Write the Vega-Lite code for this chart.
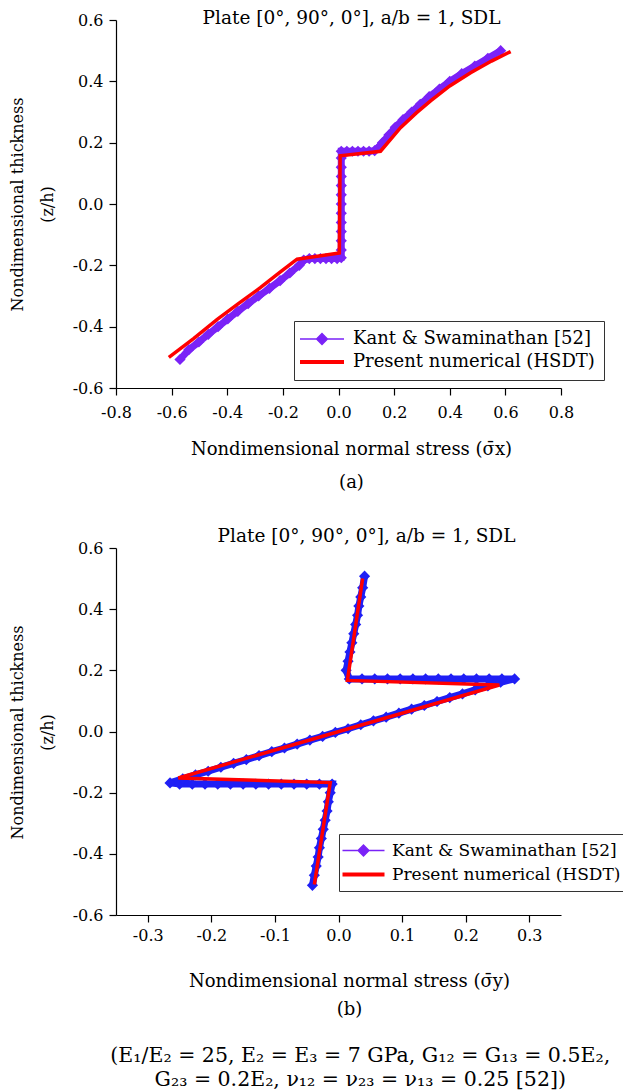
{
  "$schema": "https://vega.github.io/schema/vega-lite/v6.json",
  "padding": {"left": 9, "top": 8, "right": 0, "bottom": 0},
  "spacing": 35,
  "config": {
    "font": "DejaVu Serif",
    "view": {"stroke": null},
    "axis": {"domainColor": "#000", "tickColor": "#000", "labelColor": "#000", "titleColor": "#000", "labelFont": "DejaVu Serif", "titleFont": "DejaVu Serif", "labelFontSize": 16, "titleFontSize": 18, "titleFontWeight": "normal", "grid": false, "labelFlush": false, "labelOverlap": false, "domainWidth": 1.2, "tickWidth": 1.2},
    "title": {"font": "DejaVu Serif", "fontWeight": "normal", "color": "#000"}
  },
  "title": {"text": ["(E₁/E₂ = 25, E₂ = E₃ = 7 GPa, G₁₂ = G₁₃ = 0.5E₂,", "G₂₃ = 0.2E₂, ν₁₂ = ν₂₃ = ν₁₃ = 0.25 [52])"], "orient": "bottom", "anchor": "middle", "fontSize": 20.5, "lineHeight": 24, "dx": 41, "offset": 28},
  "datasets": {
    "presA": [
      {"i": 1, "x": -0.61, "z": -0.5}, {"i": 2, "x": -0.52, "z": -0.438}, {"i": 3, "x": -0.436, "z": -0.376}, {"i": 4, "x": -0.36, "z": -0.325}, {"i": 5, "x": -0.281, "z": -0.273}, {"i": 6, "x": -0.21, "z": -0.222}, {"i": 7, "x": -0.149, "z": -0.18}, {"i": 8, "x": 0.003, "z": -0.16}, {"i": 9, "x": 0.006, "z": 0.157}, {"i": 10, "x": 0.151, "z": 0.172}, {"i": 11, "x": 0.223, "z": 0.249}, {"i": 12, "x": 0.28, "z": 0.297}, {"i": 13, "x": 0.331, "z": 0.336}, {"i": 14, "x": 0.4, "z": 0.385}, {"i": 15, "x": 0.475, "z": 0.428}, {"i": 16, "x": 0.55, "z": 0.466}, {"i": 17, "x": 0.619, "z": 0.497}
    ],
    "kantA": [
      {"i": 1, "x": -0.57, "z": -0.507}, {"i": 2, "x": -0.538, "z": -0.475}, {"i": 3, "x": -0.502, "z": -0.45}, {"i": 4, "x": -0.468, "z": -0.425}, {"i": 5, "x": -0.433, "z": -0.4}, {"i": 6, "x": -0.398, "z": -0.375}, {"i": 7, "x": -0.362, "z": -0.35}, {"i": 8, "x": -0.325, "z": -0.325}, {"i": 9, "x": -0.287, "z": -0.3}, {"i": 10, "x": -0.248, "z": -0.275}, {"i": 11, "x": -0.21, "z": -0.25}, {"i": 12, "x": -0.175, "z": -0.225}, {"i": 13, "x": -0.141, "z": -0.2}, {"i": 14, "x": -0.125, "z": -0.183},
      {"i": 15, "x": -0.105, "z": -0.178}, {"i": 16, "x": -0.085, "z": -0.178}, {"i": 17, "x": -0.065, "z": -0.178}, {"i": 18, "x": -0.045, "z": -0.178}, {"i": 19, "x": -0.025, "z": -0.178}, {"i": 20, "x": -0.005, "z": -0.178}, {"i": 21, "x": 0.01, "z": -0.175},
      {"i": 22, "x": 0.01, "z": -0.15}, {"i": 23, "x": 0.01, "z": -0.12}, {"i": 24, "x": 0.01, "z": -0.09}, {"i": 25, "x": 0.01, "z": -0.06}, {"i": 26, "x": 0.01, "z": -0.03}, {"i": 27, "x": 0.01, "z": 0.0}, {"i": 28, "x": 0.01, "z": 0.03}, {"i": 29, "x": 0.01, "z": 0.06}, {"i": 30, "x": 0.01, "z": 0.09}, {"i": 31, "x": 0.01, "z": 0.12}, {"i": 32, "x": 0.01, "z": 0.15}, {"i": 33, "x": 0.01, "z": 0.172},
      {"i": 34, "x": 0.03, "z": 0.172}, {"i": 35, "x": 0.05, "z": 0.172}, {"i": 36, "x": 0.07, "z": 0.172}, {"i": 37, "x": 0.09, "z": 0.172}, {"i": 38, "x": 0.11, "z": 0.172}, {"i": 39, "x": 0.13, "z": 0.174},
      {"i": 40, "x": 0.145, "z": 0.185}, {"i": 41, "x": 0.158, "z": 0.2}, {"i": 42, "x": 0.181, "z": 0.225}, {"i": 43, "x": 0.204, "z": 0.25}, {"i": 44, "x": 0.232, "z": 0.275}, {"i": 45, "x": 0.263, "z": 0.3}, {"i": 46, "x": 0.294, "z": 0.325}, {"i": 47, "x": 0.326, "z": 0.35}, {"i": 48, "x": 0.363, "z": 0.375}, {"i": 49, "x": 0.4, "z": 0.4}, {"i": 50, "x": 0.443, "z": 0.425}, {"i": 51, "x": 0.49, "z": 0.45}, {"i": 52, "x": 0.537, "z": 0.475}, {"i": 53, "x": 0.583, "z": 0.5}
    ],
    "presB": [
      {"i": 1, "x": -0.038, "z": -0.5}, {"i": 2, "x": -0.013, "z": -0.167}, {"i": 3, "x": -0.252, "z": -0.152}, {"i": 4, "x": 0.253, "z": 0.152}, {"i": 5, "x": 0.014, "z": 0.167}, {"i": 6, "x": 0.038, "z": 0.5}
    ],
    "kantB": [
      {"i": 1, "x": -0.041, "z": -0.503}, {"i": 2, "x": -0.038, "z": -0.47}, {"i": 3, "x": -0.035, "z": -0.44}, {"i": 4, "x": -0.032, "z": -0.41}, {"i": 5, "x": -0.03, "z": -0.38}, {"i": 6, "x": -0.027, "z": -0.35}, {"i": 7, "x": -0.024, "z": -0.32}, {"i": 8, "x": -0.021, "z": -0.29}, {"i": 9, "x": -0.018, "z": -0.26}, {"i": 10, "x": -0.016, "z": -0.23}, {"i": 11, "x": -0.013, "z": -0.2}, {"i": 12, "x": -0.01, "z": -0.172},
      {"i": 13, "x": -0.03, "z": -0.172}, {"i": 14, "x": -0.05, "z": -0.172}, {"i": 15, "x": -0.07, "z": -0.172}, {"i": 16, "x": -0.09, "z": -0.172}, {"i": 17, "x": -0.11, "z": -0.172}, {"i": 18, "x": -0.13, "z": -0.172}, {"i": 19, "x": -0.15, "z": -0.172}, {"i": 20, "x": -0.17, "z": -0.172}, {"i": 21, "x": -0.19, "z": -0.172}, {"i": 22, "x": -0.21, "z": -0.172}, {"i": 23, "x": -0.23, "z": -0.172}, {"i": 24, "x": -0.25, "z": -0.172}, {"i": 25, "x": -0.265, "z": -0.168},
      {"i": 26, "x": -0.245, "z": -0.155}, {"i": 27, "x": -0.225, "z": -0.142}, {"i": 28, "x": -0.205, "z": -0.13}, {"i": 29, "x": -0.185, "z": -0.117}, {"i": 30, "x": -0.165, "z": -0.104}, {"i": 31, "x": -0.145, "z": -0.092}, {"i": 32, "x": -0.125, "z": -0.079}, {"i": 33, "x": -0.105, "z": -0.066}, {"i": 34, "x": -0.085, "z": -0.054}, {"i": 35, "x": -0.065, "z": -0.041}, {"i": 36, "x": -0.045, "z": -0.028}, {"i": 37, "x": -0.025, "z": -0.016}, {"i": 38, "x": -0.005, "z": -0.003}, {"i": 39, "x": 0.015, "z": 0.009}, {"i": 40, "x": 0.035, "z": 0.022}, {"i": 41, "x": 0.055, "z": 0.035}, {"i": 42, "x": 0.075, "z": 0.047}, {"i": 43, "x": 0.095, "z": 0.06}, {"i": 44, "x": 0.115, "z": 0.073}, {"i": 45, "x": 0.135, "z": 0.085}, {"i": 46, "x": 0.155, "z": 0.098}, {"i": 47, "x": 0.175, "z": 0.111}, {"i": 48, "x": 0.195, "z": 0.123}, {"i": 49, "x": 0.215, "z": 0.136}, {"i": 50, "x": 0.235, "z": 0.149}, {"i": 51, "x": 0.255, "z": 0.161}, {"i": 52, "x": 0.277, "z": 0.172},
      {"i": 53, "x": 0.257, "z": 0.172}, {"i": 54, "x": 0.237, "z": 0.172}, {"i": 55, "x": 0.217, "z": 0.172}, {"i": 56, "x": 0.197, "z": 0.172}, {"i": 57, "x": 0.177, "z": 0.172}, {"i": 58, "x": 0.157, "z": 0.172}, {"i": 59, "x": 0.137, "z": 0.172}, {"i": 60, "x": 0.117, "z": 0.172}, {"i": 61, "x": 0.097, "z": 0.172}, {"i": 62, "x": 0.077, "z": 0.172}, {"i": 63, "x": 0.057, "z": 0.172}, {"i": 64, "x": 0.037, "z": 0.172}, {"i": 65, "x": 0.017, "z": 0.172},
      {"i": 66, "x": 0.012, "z": 0.2}, {"i": 67, "x": 0.015, "z": 0.23}, {"i": 68, "x": 0.018, "z": 0.26}, {"i": 69, "x": 0.021, "z": 0.29}, {"i": 70, "x": 0.024, "z": 0.32}, {"i": 71, "x": 0.027, "z": 0.35}, {"i": 72, "x": 0.03, "z": 0.38}, {"i": 73, "x": 0.032, "z": 0.41}, {"i": 74, "x": 0.035, "z": 0.44}, {"i": 75, "x": 0.038, "z": 0.47}, {"i": 76, "x": 0.041, "z": 0.508}
    ]
  },
  "resolve": {"scale": {"color": "independent", "x": "independent", "y": "independent"}, "legend": {"color": "independent"}, "axis": {"x": "independent", "y": "independent"}},
  "vconcat": [
    {
      "width": 445,
      "height": 368,
      "title": {"text": "Plate [0°, 90°, 0°], a/b = 1, SDL", "fontSize": 18.5, "anchor": "middle", "offset": -15, "dx": 13},
      "layer": [
        {
          "data": {"name": "kantA"},
          "mark": {"type": "line", "color": "#7a22f7", "strokeWidth": 7},
          "encoding": {
            "x": {"field": "x", "type": "quantitative", "scale": {"domain": [-0.8, 0.8], "nice": false, "zero": false},
              "axis": {"values": [-0.8, -0.7, -0.6, -0.5, -0.4, -0.3, -0.2, -0.1, 0, 0.1, 0.2, 0.3, 0.4, 0.5, 0.6, 0.7, 0.8],
                "labelExpr": "abs(datum.value*5 - round(datum.value*5)) < 0.01 ? (datum.value < -0.001 ? '-' : '') + format(abs(datum.value), '.1f') : ''",
                "tickSize": {"condition": {"test": "abs(datum.value*5 - round(datum.value*5)) < 0.01", "value": 7}, "value": 4},
                "labelPadding": 9,
                "title": ["Nondimensional normal stress (σ̄x)", "(a)"], "titleX": 235, "titleY": 52, "titleAlign": "center", "titleBaseline": "top", "titleLineHeight": 33}},
            "y": {"field": "z", "type": "quantitative", "scale": {"domain": [-0.6, 0.6], "nice": false, "zero": false},
              "axis": {"values": [-0.6, -0.5, -0.4, -0.3, -0.2, -0.1, 0, 0.1, 0.2, 0.3, 0.4, 0.5, 0.6],
                "labelExpr": "abs(datum.value*5 - round(datum.value*5)) < 0.01 ? (datum.value < -0.001 ? '-' : '') + format(abs(datum.value), '.1f') : ''",
                "tickSize": {"condition": {"test": "abs(datum.value*5 - round(datum.value*5)) < 0.01", "value": 7}, "value": 4},
                "labelPadding": 6, "titleFontSize": 16,
                "title": ["Nondimensional thickness", "(z/h)"], "titleAngle": -90, "titleX": -99, "titleY": 184, "titleAlign": "center", "titleBaseline": "middle", "titleLineHeight": 30}},
            "order": {"field": "i", "type": "quantitative"}
          }
        },
        {
          "data": {"name": "kantA"},
          "mark": {"type": "point", "shape": "diamond", "filled": true, "color": "#7a22f7", "size": 125, "opacity": 1},
          "encoding": {
            "x": {"field": "x", "type": "quantitative"},
            "y": {"field": "z", "type": "quantitative"}
          }
        },
        {
          "data": {"name": "presA"},
          "mark": {"type": "line", "strokeWidth": 3.5},
          "encoding": {
            "x": {"field": "x", "type": "quantitative"},
            "y": {"field": "z", "type": "quantitative"},
            "order": {"field": "i", "type": "quantitative"},
            "color": {"datum": "Present numerical (HSDT)", "type": "nominal",
              "scale": {"domain": ["Kant & Swaminathan [52]", "Present numerical (HSDT)"], "range": ["#7a22f7", "#ff0000"]},
              "legend": {"title": null, "orient": "none", "legendX": 178, "legendY": 301, "direction": "vertical",
                "labelFont": "DejaVu Serif", "labelFontSize": 18, "labelColor": "#000", "labelLimit": 0,
                "strokeColor": "#333", "fillColor": "#fff", "padding": 9, "rowPadding": 5,
                "symbolSize": 400, "symbolOffset": 10, "labelOffset": 22,
                "encode": {"symbols": {"update": {
                  "shape": {"signal": "datum.value === 'Present numerical (HSDT)' ? 'M-2.2,0L2.2,0' : 'M-2.2,0L2.2,0M0,-0.55L0.55,0L0,0.55L-0.55,0Z'"},
                  "fill": {"signal": "datum.value === 'Present numerical (HSDT)' ? 'transparent' : '#7a22f7'"},
                  "stroke": {"signal": "datum.value === 'Present numerical (HSDT)' ? '#ff0000' : '#000000'"},
                  "strokeWidth": {"signal": "datum.value === 'Present numerical (HSDT)' ? 4 : 1.3"},
                  "opacity": {"value": 1}
                }}}}
            }
          }
        }
      ]
    },
    {
      "width": 445,
      "height": 367,
      "title": {"text": "Plate [0°, 90°, 0°], a/b = 1, SDL", "fontSize": 18.5, "anchor": "middle", "offset": -5, "dx": 28},
      "layer": [
        {
          "data": {"name": "kantB"},
          "mark": {"type": "line", "color": "#1f1ff5", "strokeWidth": 7},
          "encoding": {
            "x": {"field": "x", "type": "quantitative", "scale": {"domain": [-0.35, 0.35], "nice": false, "zero": false},
              "axis": {"values": [-0.3, -0.2, -0.1, 0, 0.1, 0.2, 0.3],
                "labelExpr": "(datum.value < -0.001 ? '-' : '') + format(abs(datum.value), '.1f')",
                "tickSize": 7,
                "labelPadding": 5,
                "title": ["Nondimensional normal stress (σ̄y)", "(b)"], "titleX": 233, "titleY": 57, "titleAlign": "center", "titleBaseline": "top", "titleLineHeight": 28}},
            "y": {"field": "z", "type": "quantitative", "scale": {"domain": [-0.6, 0.6], "nice": false, "zero": false},
              "axis": {"values": [-0.6, -0.5, -0.4, -0.3, -0.2, -0.1, 0, 0.1, 0.2, 0.3, 0.4, 0.5, 0.6],
                "labelExpr": "abs(datum.value*5 - round(datum.value*5)) < 0.01 ? (datum.value < -0.001 ? '-' : '') + format(abs(datum.value), '.1f') : ''",
                "tickSize": {"condition": {"test": "abs(datum.value*5 - round(datum.value*5)) < 0.01", "value": 7}, "value": 4},
                "labelPadding": 6, "titleFontSize": 16,
                "title": ["Nondimensional thickness", "(z/h)"], "titleAngle": -90, "titleX": -99, "titleY": 184, "titleAlign": "center", "titleBaseline": "middle", "titleLineHeight": 30}},
            "order": {"field": "i", "type": "quantitative"}
          }
        },
        {
          "data": {"name": "kantB"},
          "mark": {"type": "point", "shape": "diamond", "filled": true, "color": "#1f1ff5", "size": 125, "opacity": 1},
          "encoding": {
            "x": {"field": "x", "type": "quantitative"},
            "y": {"field": "z", "type": "quantitative"}
          }
        },
        {
          "data": {"name": "presB"},
          "mark": {"type": "line", "strokeWidth": 3.5},
          "encoding": {
            "x": {"field": "x", "type": "quantitative"},
            "y": {"field": "z", "type": "quantitative"},
            "order": {"field": "i", "type": "quantitative"},
            "color": {"datum": "Present numerical (HSDT)", "type": "nominal",
              "scale": {"domain": ["Kant & Swaminathan [52]", "Present numerical (HSDT)"], "range": ["#7a22f7", "#ff0000"]},
              "legend": {"title": null, "orient": "none", "legendX": 223, "legendY": 286, "direction": "vertical",
                "labelFont": "DejaVu Serif", "labelFontSize": 17, "labelColor": "#000", "labelLimit": 0,
                "strokeColor": "#333", "fillColor": "#fff", "padding": 8, "rowPadding": 6,
                "symbolSize": 400, "symbolOffset": 8, "labelOffset": 20,
                "encode": {"symbols": {"update": {
                  "shape": {"signal": "datum.value === 'Present numerical (HSDT)' ? 'M-2.1,0L2.1,0' : 'M-2.1,0L2.1,0M0,-0.55L0.55,0L0,0.55L-0.55,0Z'"},
                  "fill": {"signal": "datum.value === 'Present numerical (HSDT)' ? 'transparent' : '#7a22f7'"},
                  "stroke": {"signal": "datum.value === 'Present numerical (HSDT)' ? '#ff0000' : '#000000'"},
                  "strokeWidth": {"signal": "datum.value === 'Present numerical (HSDT)' ? 4 : 1.3"},
                  "opacity": {"value": 1}
                }}}}
            }
          }
        }
      ]
    }
  ]
}
